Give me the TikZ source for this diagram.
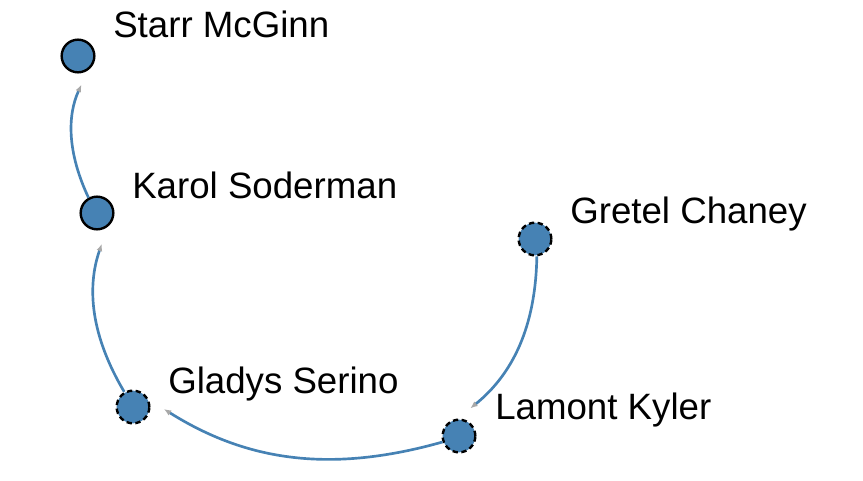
\documentclass[tikz,border=0pt]{standalone}
\usepackage{fontspec}
\setmainfont{Liberation Sans}
\usetikzlibrary{arrows.meta}
\definecolor{steel}{HTML}{4682B4}
\definecolor{tipgray}{HTML}{A8A8A8}
\tikzset{
  person/.style={circle, draw=black, fill=steel, line width=1.8pt, inner sep=0pt, minimum size=24.5pt},
  dashedperson/.style={person, dash pattern=on 4pt off 2.6pt},
  lbl/.style={anchor=base west, inner sep=0pt, font=\fontsize{27.5}{32}\selectfont},
  link/.style={draw=steel, line width=2pt, -{Latex[color=tipgray, length=5.5pt, width=4.5pt]}},
}
\begin{document}
\begin{tikzpicture}[x=0.75pt, y=-0.75pt]
\useasboundingbox (0,0) rectangle (863,481);
\node[person] (starr) at (78,56) {};
\node[person] (karol) at (97,213) {};
\node[dashedperson] (gretel) at (535,239) {};
\node[dashedperson] (gladys) at (133,407) {};
\node[dashedperson] (lamont) at (459,436) {};
% links
\path[link, shorten >=12.1pt] (gretel.-84) to[bend left=25] (lamont.94);
\path[link, shorten >=13.3pt] (lamont.200) to[bend left=24] (gladys.25);
\path[link, shorten >=13.5pt] (gladys.120) to[bend left=25] (karol.-52);
\path[link, shorten >=11.8pt] (karol.119) to[bend left=25] (starr.-55);
% labels
\node[lbl] (lstarr) at (113,38) {Starr McGinn};
\node[lbl] (lkarol) at (132,198) {Karol Soderman};
\node[lbl] (lgretel) at (570,223) {Gretel Chaney};
\node[lbl] (lgladys) at (168,393) {Gladys Serino};
\node[lbl] (llamont) at (495,419) {Lamont Kyler};
\end{tikzpicture}
\end{document}
